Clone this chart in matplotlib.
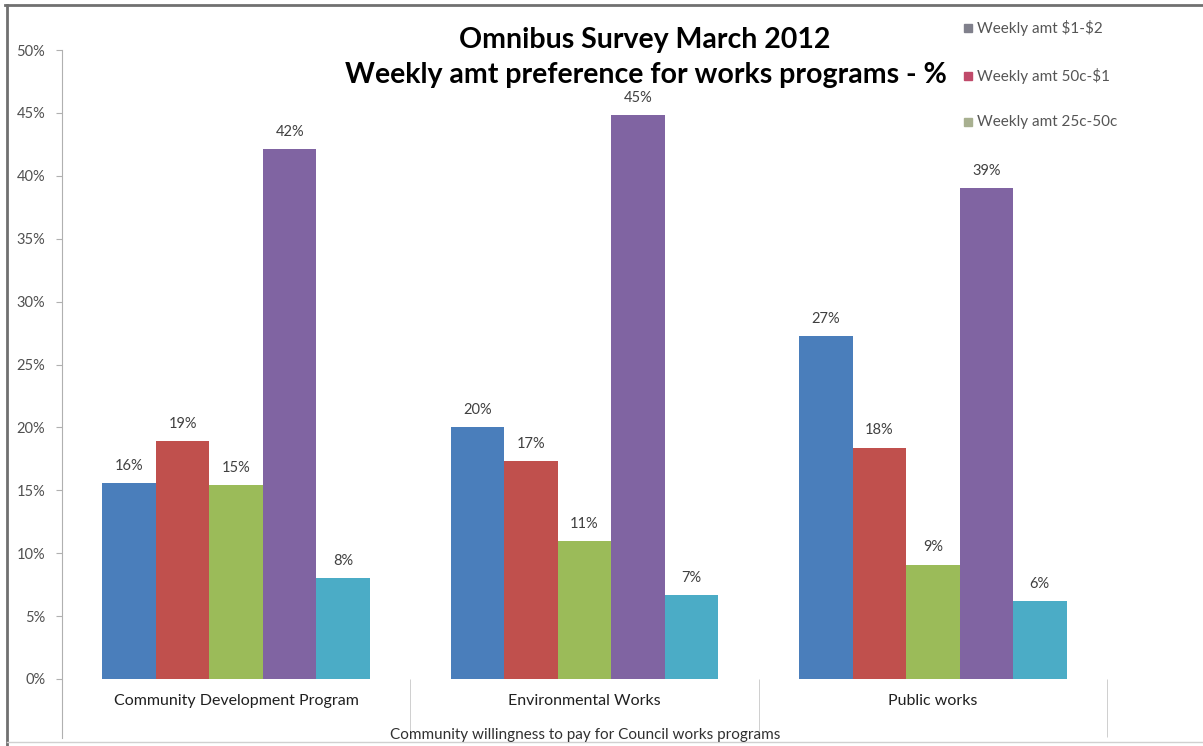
import matplotlib.pyplot as plt
from matplotlib.lines import Line2D
from matplotlib.patches import Rectangle
import numpy as np

programs = ["Community Development Program", "Environmental Works", "Public works"]
blue = [15.6, 20.0, 27.3]
red = [18.9, 17.3, 18.4]
green = [15.4, 11.0, 9.1]
purple = [42.1, 44.8, 39.0]
teal = [8.0, 6.7, 6.2]
legend_labels = [r"Weekly amt \$1-\$2", r"Weekly amt 50c-\$1", "Weekly amt 25c-50c"]
yticks = [0, 5, 10, 15, 20, 25, 30, 35, 40, 45, 50]

series = [blue, red, green, purple, teal]
colors = ["#4a7ebb", "#c0504d", "#9bbb59", "#8064a2", "#4bacc6"]
legend_colors = ["#80808c", "#c04a6a", "#a8b090"]

plt.rcParams['font.family'] = ['Lato', 'DejaVu Sans']

W, H = 1203, 746
fig = plt.figure(figsize=(W / 100, H / 100), dpi=100)
ax = fig.add_axes([62 / W, 1 - 679 / H, (1107 - 62) / W, (679 - 50) / H])

x = np.arange(len(programs))
bw = 0.1535
for i, (vals, c) in enumerate(zip(series, colors)):
    pos = x + (i - 2) * bw
    ax.bar(pos, vals, bw, color=c, linewidth=0)
    for p, v in zip(pos, vals):
        ax.text(p, v + 0.8, "{:.0f}%".format(v), ha="center", va="bottom",
                fontsize=10.5, color="#404040")

ax.set_xlim(-0.5, 2.5)
ax.set_ylim(0, 50)
ax.set_yticks(yticks)
ax.set_yticklabels(["{}%".format(t) for t in yticks], fontsize=10.5, color="#505050")
ax.tick_params(axis="y", direction="out", length=4, color="#b0b0b0", pad=8)

ax.set_xticks(x)
ax.set_xticklabels(programs, fontsize=11.5, color="#202020")
ax.tick_params(axis="x", length=0, pad=11)
ax.set_xticks([0.5, 1.5, 2.5], minor=True)
ax.tick_params(axis="x", which="minor", direction="out", length=42, color="#c8c8c8")

for s in ["top", "right", "bottom"]:
    ax.spines[s].set_visible(False)
ax.spines["left"].set_color("#b0b0b0")
ax.spines["left"].set_bounds(-4.7, 50)
ax.set_ylim(0, 50)

fig.text(585 / W, 1 - 735 / H, "Community willingness to pay for Council works programs",
         ha="center", va="center", fontsize=11, color="#303030")

fig.text(645 / W, 1 - 40 / H, "Omnibus Survey March 2012", ha="center", va="center",
         fontsize=20.5, fontweight="bold", color="black")
fig.text(646 / W, 1 - 75 / H, "Weekly amt preference for works programs - %", ha="center",
         va="center", fontsize=20.5, fontweight="bold", color="black")

# legend entries, spaced as in the original layout
leg_y = [28, 76, 122]
for lbl, c, yy in zip(legend_labels, legend_colors, leg_y):
    fig.patches.append(Rectangle((964 / W, 1 - (yy + 4) / H), 8 / W, 8 / H,
                                 transform=fig.transFigure, color=c))
    fig.text(977 / W, 1 - yy / H, lbl, ha="left", va="center", fontsize=11, color="#555555")

# chart frame
fig.lines.append(Line2D([5 / W, 1], [1 - 5 / H, 1 - 5 / H], transform=fig.transFigure,
                        color="#707070", lw=2))
fig.lines.append(Line2D([7 / W, 7 / W], [0, 1 - 5 / H], transform=fig.transFigure,
                        color="#707070", lw=2))
fig.lines.append(Line2D([7 / W, 1], [1 - 742 / H, 1 - 742 / H], transform=fig.transFigure,
                        color="#d0d0d0", lw=1))

fig.savefig("out.png", dpi=100)
